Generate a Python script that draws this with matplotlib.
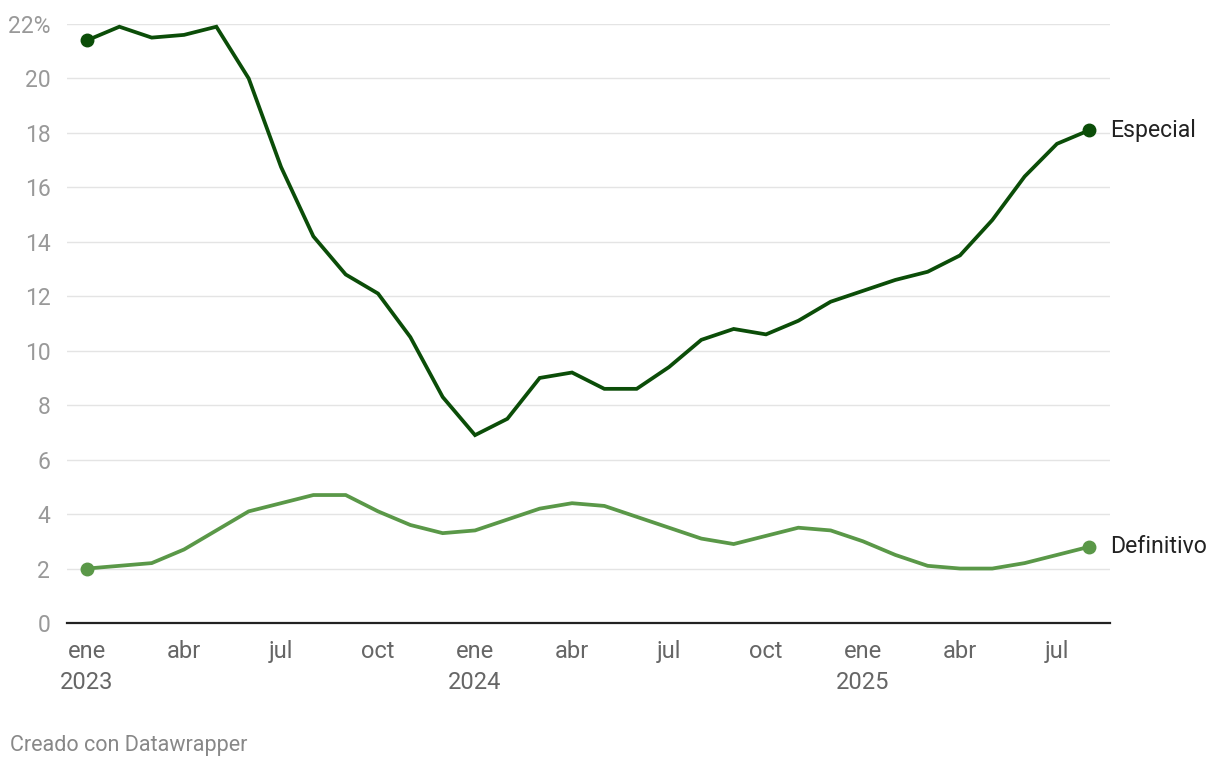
import matplotlib.pyplot as plt
import numpy as np

plt.rcParams['font.family'] = ['Roboto', 'DejaVu Sans']

# monthly values, ene 2023 .. ago 2025
especial = [21.4, 21.9, 21.5, 21.6, 21.9, 20.0, 16.75, 14.2, 12.8, 12.1, 10.5, 8.3,
            6.9, 7.5, 9.0, 9.2, 8.6, 8.6, 9.4, 10.4, 10.8, 10.6, 11.1, 11.8,
            12.2, 12.6, 12.9, 13.5, 14.8, 16.4, 17.6, 18.1]
definitivo = [2.0, 2.1, 2.2, 2.7, 3.4, 4.1, 4.4, 4.7, 4.7, 4.1, 3.6, 3.3,
              3.4, 3.8, 4.2, 4.4, 4.3, 3.9, 3.5, 3.1, 2.9, 3.2, 3.5, 3.4,
              3.0, 2.5, 2.1, 2.0, 2.0, 2.2, 2.5, 2.8]
x_ticks = [0, 3, 6, 9, 12, 15, 18, 21, 24, 27, 30]
x_labels = ['ene\n2023', 'abr', 'jul', 'oct', 'ene\n2024', 'abr', 'jul', 'oct',
            'ene\n2025', 'abr', 'jul']
y_ticks = [0, 2, 4, 6, 8, 10, 12, 14, 16, 18, 20, 22]
y_labels = [str(v) for v in y_ticks[:-1]] + ['22%']

c_esp = '#0b4d08'
c_def = '#5a9848'

fig = plt.figure(figsize=(12.2, 7.7), dpi=100)
ax = fig.add_axes([67 / 1220, 147 / 770, 1043 / 1220, 599 / 770])

x = np.arange(len(especial))
ax.plot(x, especial, color=c_esp, lw=2.7, solid_joinstyle='miter', zorder=3)
ax.plot(x, definitivo, color=c_def, lw=2.7, solid_joinstyle='miter', zorder=3)
for s, c in [(especial, c_esp), (definitivo, c_def)]:
    ax.plot([x[0], x[-1]], [s[0], s[-1]], 'o', color=c, ms=9, zorder=4)

ax.text(x[-1] + 0.65, especial[-1], 'Especial', fontsize=16.6, color='#222222',
        va='center', ha='left', clip_on=False)
ax.text(x[-1] + 0.65, definitivo[-1], 'Definitivo', fontsize=16.6, color='#222222',
        va='center', ha='left', clip_on=False)

ax.set_xlim(-0.62, 31.64)
ax.set_ylim(0, 22)
ax.set_yticks(y_ticks)
ax.set_yticklabels(y_labels)
ax.set_xticks(x_ticks)
ax.set_xticklabels(x_labels, linespacing=1.45)
ax.tick_params(axis='y', length=0, pad=12, labelsize=16.5, labelcolor='#999999')
ax.tick_params(axis='x', length=0, pad=12, labelsize=17, labelcolor='#666666')
for t in ax.get_xticklabels():
    t.set_verticalalignment('top')

ax.grid(axis='y', color='#e4e4e4', lw=1)
ax.set_axisbelow(True)
for sp in ['top', 'right', 'left']:
    ax.spines[sp].set_visible(False)
ax.spines['bottom'].set_color('#222222')
ax.spines['bottom'].set_linewidth(1.6)

fig.text(10 / 1220, 1 - 746 / 770, 'Creado con Datawrapper', fontsize=15.5,
         color='#888888', va='center', ha='left')

fig.savefig('out.png', dpi=100)
